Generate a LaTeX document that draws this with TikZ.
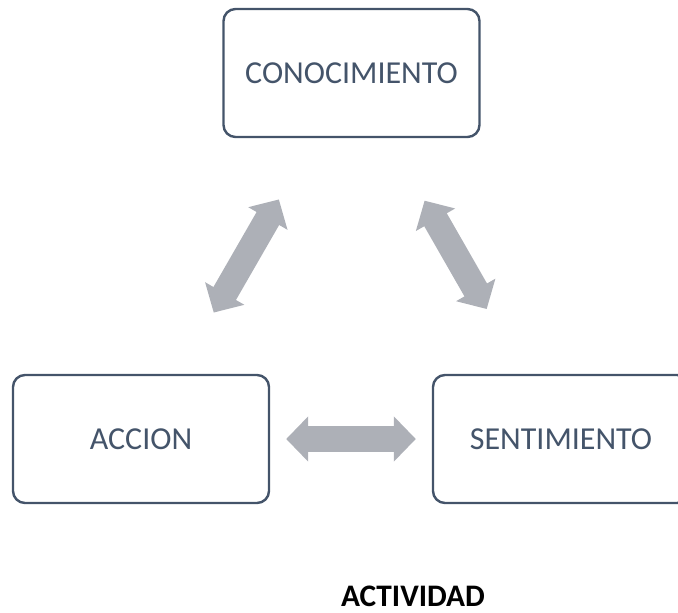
\documentclass[tikz,border=0pt]{standalone}
\usepackage{fontspec}
\setmainfont{Carlito}
\usepackage{tikz}
\usetikzlibrary{positioning}
\usetikzlibrary{arrows.meta}
\definecolor{myslate}{RGB}{68,84,106}
\definecolor{mygray}{RGB}{173,176,183}

\begin{document}
\begin{tikzpicture}[x=0.75pt,y=-0.75pt,
  boxnode/.style={draw=myslate,text=myslate,line width=1.8pt,rounded corners=9pt,
    minimum width=192pt,minimum height=96pt,inner sep=0pt,
    font=\fontsize{24}{29}\selectfont},
  dblarrow/.style={mygray,line width=19.5pt,
    {Triangle[length=16.5pt,width=33pt]}-{Triangle[length=16.5pt,width=33pt]}},
  titlenode/.style={inner sep=0pt,font=\fontsize{23.5}{28}\selectfont\bfseries}]

\useasboundingbox (0,0) rectangle (678,613);
\clip (0,0) rectangle (678,613);

\node[boxnode] (con) at (351.5,73) {CONOCIMIENTO};
\node[boxnode] (acc) at (141,439) {ACCION};
\node[boxnode] (sen) at (561,439) {SENTIMIENTO};

\node[titlenode] (act) at (413,596) {ACTIVIDAD};

\draw[dblarrow,shorten <=53pt,shorten >=53pt] (acc) -- (con);
\draw[dblarrow,shorten <=54pt,shorten >=56pt] (con) -- (sen);
\draw[dblarrow,shorten <=12pt,shorten >=12pt] (acc) -- (sen);
\end{tikzpicture}
\end{document}
